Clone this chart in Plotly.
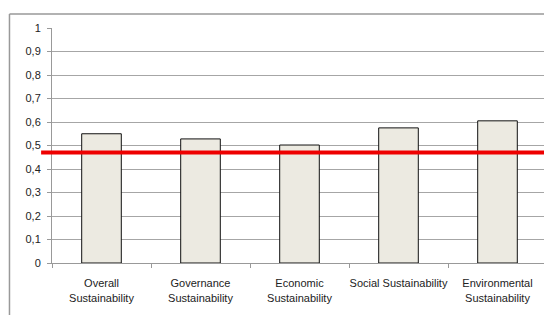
import plotly.graph_objects as go

categories = ["Overall<br>Sustainability", "Governance<br>Sustainability", "Economic<br>Sustainability",
              "Social Sustainability", "Environmental<br>Sustainability"]
values = [0.55, 0.528, 0.502, 0.575, 0.605]
threshold = 0.47
y_tickvals = [0, 0.1, 0.2, 0.3, 0.4, 0.5, 0.6, 0.7, 0.8, 0.9, 1]
y_ticktext = ["0", "0,1", "0,2", "0,3", "0,4", "0,5", "0,6", "0,7", "0,8", "0,9", "1"]

fig = go.Figure()
fig.add_trace(go.Bar(
    x=categories, y=values,
    marker=dict(color="#ECEAE1", line=dict(color="#111111", width=1)),
    width=0.4,
))

fig.add_shape(type="line", xref="paper", yref="y", x0=-0.022, x1=1.03, y0=threshold, y1=threshold,
              line=dict(color="#ee0000", width=4), layer="above")

# outer frame
fig.add_shape(type="line", xref="paper", yref="paper", x0=-0.0859, x1=1.03, y0=1.06, y1=1.06,
              line=dict(color="#999999", width=1.5))
fig.add_shape(type="line", xref="paper", yref="paper", x0=-0.0859, x1=-0.0859, y0=1.06, y1=-0.3,
              line=dict(color="#999999", width=1.5))

fig.update_layout(
    width=544, height=307,
    margin=dict(l=44, r=5, t=20, b=52, autoexpand=False),
    paper_bgcolor="white", plot_bgcolor="white",
    showlegend=False,
    font=dict(family="Liberation Sans, Arial, sans-serif", size=11, color="#222222"),
    bargap=0.6,
)
fig.update_xaxes(
    type="category", tickson="boundaries", ticks="outside", ticklen=4, tickcolor="#999999",
    showline=True, linecolor="#999999", linewidth=1, showgrid=False,
    tickfont=dict(size=11), tickangle=0, automargin=False, ticklabelstandoff=10,
)
fig.update_yaxes(
    range=[0, 1], tickvals=y_tickvals, ticktext=y_ticktext,
    ticks="outside", ticklen=4, tickcolor="#999999",
    showline=True, linecolor="#999999", linewidth=1,
    showgrid=True, gridcolor="#a6a6a6", gridwidth=1, zeroline=False,
    tickfont=dict(size=11), automargin=False, ticklabelstandoff=4,
)

fig.write_html("out.html")
